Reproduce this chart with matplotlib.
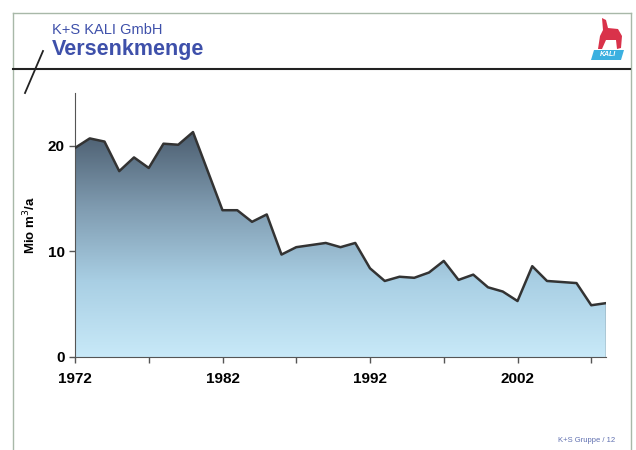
import numpy as np
import matplotlib
matplotlib.use("Agg")
import matplotlib.pyplot as plt
from matplotlib.colors import LinearSegmentedColormap
from matplotlib.patches import Polygon
from matplotlib.lines import Line2D

years = list(range(1972, 2009))
values = [19.8, 20.7, 20.4, 17.6, 18.9, 17.9, 20.2, 20.1, 21.3, 17.6,
          13.9, 13.9, 12.8, 13.5, 9.7, 10.4, 10.6, 10.8, 10.4, 10.8,
          8.4, 7.2, 7.6, 7.5, 8.0, 9.1, 7.3, 7.8, 6.6, 6.2,
          5.3, 8.6, 7.2, 7.1, 7.0, 4.9, 5.1]
xtick_labels = ["1972", "1982", "1992", "2002"]
ytick_values = [0, 10, 20]

plt.rcParams["font.family"] = ["Liberation Sans", "DejaVu Sans"]

fig = plt.figure(figsize=(6.36, 4.5), dpi=100)
fig.patch.set_facecolor("white")

W, H = 636, 450
def fx(px): return px / W
def fy(py): return 1 - py / H

# frame border
fig.add_artist(Line2D([fx(13), fx(13)], [fy(13), fy(450)], color="#a8b8a8", lw=1.0))
fig.add_artist(Line2D([fx(13), fx(631)], [fy(13), fy(13)], color="#a8b8a8", lw=1.0))
fig.add_artist(Line2D([fx(631), fx(631)], [fy(13), fy(450)], color="#a8b8a8", lw=1.0))

# header
fig.text(fx(52), fy(30), "K+S KALI GmbH", color="#3e50aa", fontsize=10.5, va="center", ha="left")
fig.text(fx(52), fy(50), "Versenkmenge", color="#3e50aa", fontsize=15.5, fontweight="bold", va="center", ha="left")
fig.add_artist(Line2D([fx(13), fx(630)], [fy(69), fy(69)], color="#222222", lw=1.5))
fig.add_artist(Line2D([fx(25), fx(43)], [fy(93), fy(51)], color="#222222", lw=1.3))

# logo (simplified)
logo = fig.add_axes([fx(588), fy(62), (628 - 588) / W, (62 - 16) / H])
logo.set_xlim(0, 40); logo.set_ylim(0, 46); logo.axis("off")
logo.add_patch(Polygon([[3, 2], [33, 2], [36, 12], [6, 12]], closed=True, facecolor="#3bb0e0", edgecolor="none"))
logo.text(20, 7, "KALI", color="white", fontsize=5, fontweight="bold", ha="center", va="center", style="italic")
logo.add_patch(Polygon([[10, 13], [12, 26], [15, 32], [14, 44], [18, 42], [20, 34], [30, 33], [34, 26], [33, 14], [29, 13], [28, 22], [18, 22], [14, 13]],
                       closed=True, facecolor="#d9324a", edgecolor="none"))

# footer
fig.text(fx(587), fy(441), "K+S Gruppe / 12", color="#6070b0", fontsize=5.5, ha="center", va="center")

# main axes
ax = fig.add_axes([fx(75), fy(357), (606 - 75) / W, (357 - 93) / H])
ax.set_xlim(1972, 2008)
ax.set_ylim(0, 25)

cmap = LinearSegmentedColormap.from_list("g", ["#c8e9f8", "#a9cfe4", "#7f9bb0", "#4c5e70"])
grad = np.linspace(0, 1, 256).reshape(-1, 1)
ymax = max(values)
im = ax.imshow(grad, extent=[1972, 2008, 0, ymax], origin="lower", aspect="auto", cmap=cmap, zorder=1)
poly_pts = [[1972, 0]] + [[x, y] for x, y in zip(years, values)] + [[2008, 0]]
clip = Polygon(poly_pts, closed=True, transform=ax.transData, facecolor="none", edgecolor="none")
ax.add_patch(clip)
im.set_clip_path(clip)

ax.plot(years, values, color="#333333", lw=1.8, zorder=3, solid_joinstyle="round")
ax.plot([2008, 2008], [0, values[-1]], color="#666666", lw=1.0, zorder=3)

for s in ["top", "right"]:
    ax.spines[s].set_visible(False)
ax.spines["left"].set_color("#555555")
ax.spines["bottom"].set_color("#555555")

ax.set_xticks(list(range(1972, 2009, 5)))
ax.set_xticklabels([str(y) if str(y) in xtick_labels else "" for y in range(1972, 2009, 5)])
ax.set_yticks(ytick_values)
ax.set_yticklabels([str(v) for v in ytick_values])
ax.tick_params(axis="both", direction="out", length=4, color="#555555", labelsize=11, width=1)
ax.tick_params(axis="x", pad=7)
for lbl in ax.get_xticklabels() + ax.get_yticklabels():
    lbl.set_fontweight("bold")
ax.set_ylabel("Mio m$^{3}$/a", fontsize=9.5, fontweight="bold", labelpad=7)

fig.savefig("out.png", dpi=100)
